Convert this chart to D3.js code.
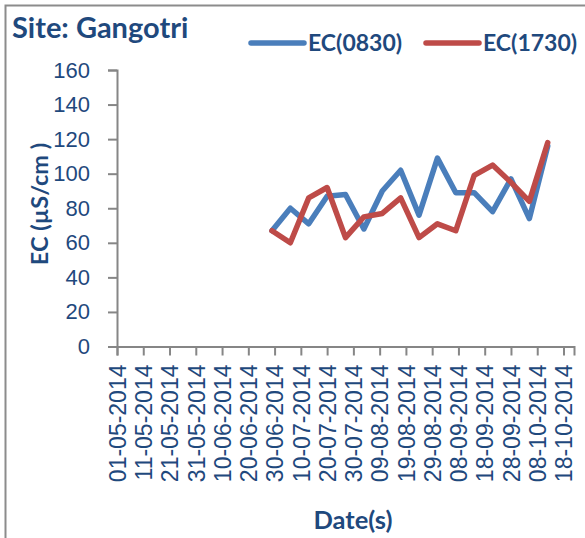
<!DOCTYPE html>
<html>
<head>
<meta charset="utf-8">
<style>
  *{margin:0;padding:0;box-sizing:border-box}
  body{background:#fff;width:585px;height:538px;overflow:hidden}
  svg{display:block;font-family:Lato,"Open Sans",sans-serif}
</style>
</head>
<body>
<svg id="g"></svg>
<script src="https://cdn.jsdelivr.net/npm/d3@7/dist/d3.min.js"></script>
<script>
// weekly sampling dates
const dates = ['29-06-2014','06-07-2014','13-07-2014','20-07-2014','27-07-2014','03-08-2014',
  '10-08-2014','17-08-2014','24-08-2014','31-08-2014','07-09-2014','14-09-2014',
  '21-09-2014','28-09-2014','05-10-2014','12-10-2014'];
const ec0830 = [67, 80, 71, 87, 88, 68, 90, 102, 76, 109, 89, 89, 78, 97, 74, 116];
const ec1730 = [67, 60, 86, 92, 63, 75, 77, 86, 63, 71, 67, 99, 105, 95, 84, 118];
const xTickLabels = ['01-05-2014','11-05-2014','21-05-2014','31-05-2014','10-06-2014','20-06-2014',
  '30-06-2014','10-07-2014','20-07-2014','30-07-2014','09-08-2014','19-08-2014',
  '29-08-2014','08-09-2014','18-09-2014','28-09-2014','08-10-2014','18-10-2014'];
const yTicks = [0, 20, 40, 60, 80, 100, 120, 140, 160];

const TEXT = '#1F497D';
const AXIS = '#868686';
const BLUE = '#4A7EBB';
const RED = '#BE4B48';

const W = 585, H = 538;
const parse = d3.timeParse('%d-%m-%Y');
const fmt = d3.timeFormat('%d-%m-%Y');

const svg = d3.select('#g').attr('width', W).attr('height', H);

// chart border (only left and top fall inside the frame)
svg.append('path').attr('d', 'M5.5,538V5.5H585')
  .attr('fill', 'none').attr('stroke', '#8c8c8c').attr('stroke-width', 2);

const x = d3.scaleTime()
  .domain([parse('01-05-2014'), parse('22-10-2014')])
  .range([117, 574]);
const y = d3.scaleLinear().domain([0, 160]).range([346.5, 70]);

// y axis
const gy = svg.append('g').attr('transform', 'translate(117,0)')
  .call(d3.axisLeft(y).tickValues(yTicks).tickSize(9).tickPadding(18));
gy.select('.domain').attr('stroke', AXIS).attr('stroke-width', 2);
gy.selectAll('.tick line').attr('stroke', AXIS).attr('stroke-width', 2);
gy.selectAll('.tick text').attr('fill', TEXT).style('font-size', '22px');

// x axis
const gx = svg.append('g').attr('transform', 'translate(0,346.5)')
  .call(d3.axisBottom(x).tickValues(xTickLabels.map(parse)).tickFormat(fmt).tickSize(9));
gx.select('.domain').attr('stroke', AXIS).attr('stroke-width', 2);
gx.selectAll('.tick line').attr('stroke', AXIS).attr('stroke-width', 2);
gx.selectAll('.tick text')
  .attr('fill', TEXT).style('font-size', '23px')
  .attr('transform', 'rotate(-90)')
  .attr('text-anchor', 'end')
  .attr('x', -18).attr('y', 0).attr('dy', '0.36em');

// lines
const line = vals => d3.line()
  .x((d, i) => x(parse(dates[i])))
  .y(d => y(d))(vals);

svg.append('path').attr('d', line(ec0830))
  .attr('fill', 'none').attr('stroke', BLUE).attr('stroke-width', 5.5)
  .attr('stroke-linejoin', 'round').attr('stroke-linecap', 'round');
svg.append('path').attr('d', line(ec1730))
  .attr('fill', 'none').attr('stroke', RED).attr('stroke-width', 5.5)
  .attr('stroke-linejoin', 'round').attr('stroke-linecap', 'round');

// title
svg.append('text').attr('x', 12).attr('y', 38)
  .attr('fill', TEXT).style('font-size', '29px').style('font-weight', 700)
  .text('Site: Gangotri');

// legend
const legend = [
  {name: 'EC(0830)', color: BLUE, x: 250},
  {name: 'EC(1730)', color: RED, x: 425}
];
const lg = svg.append('g').selectAll('g').data(legend).join('g')
  .attr('transform', d => `translate(${d.x},0)`);
lg.append('line').attr('x1', 1).attr('x2', 54).attr('y1', 43).attr('y2', 43)
  .attr('stroke', d => d.color).attr('stroke-width', 5.5).attr('stroke-linecap', 'round');
lg.append('text').attr('x', 58).attr('y', 50.5)
  .attr('fill', TEXT).style('font-size', '23px').style('font-weight', 700)
  .text(d => d.name);

// axis titles
svg.append('text')
  .attr('transform', 'translate(48,204) rotate(-90)')
  .attr('text-anchor', 'middle')
  .attr('fill', TEXT).style('font-size', '23.5px').style('font-weight', 700)
  .text('EC (µS/cm )');

svg.append('text').attr('x', 353).attr('y', 529)
  .attr('text-anchor', 'middle')
  .attr('fill', TEXT).style('font-size', '25.5px').style('font-weight', 700)
  .text('Date(s)');
</script>
</body>
</html>
